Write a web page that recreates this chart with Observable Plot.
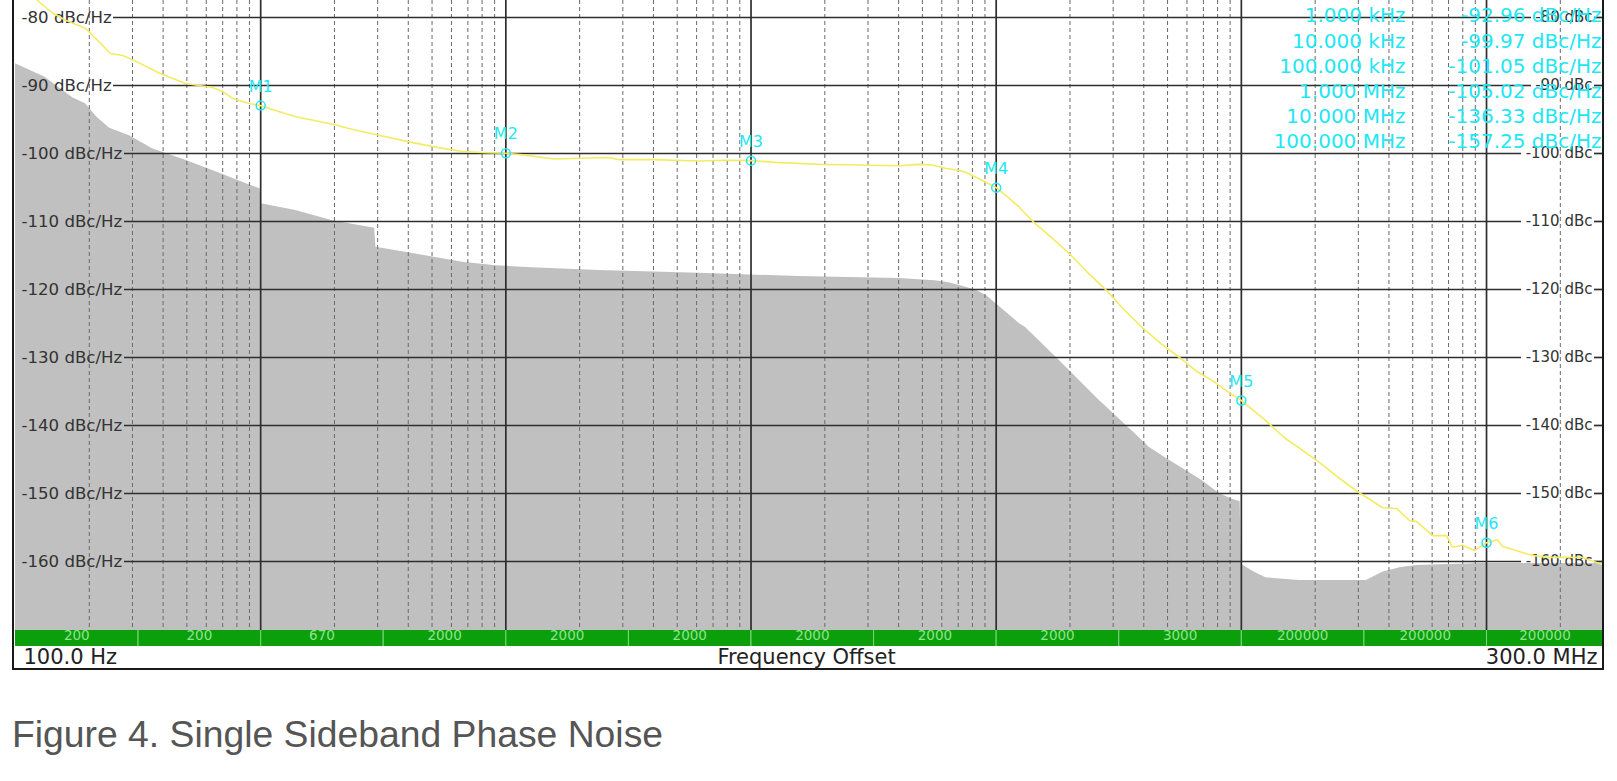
<!DOCTYPE html>
<html>
<head>
<meta charset="utf-8">
<script src="https://cdn.jsdelivr.net/npm/d3@7"></script>
<script src="https://cdn.jsdelivr.net/npm/@observablehq/plot@0.6"></script>
<style>
  html, body { margin: 0; padding: 0; background: #fff; }
  #wrap { position: relative; width: 1617px; height: 781px; overflow: hidden; }
  #chart { position: absolute; left: 0; top: 0; }
  #border { position: absolute; left: 12px; top: -3px; width: 1592px; height: 673px;
            border: 2px solid #1a1a1a; box-sizing: border-box; pointer-events: none; }
  #caption { position: absolute; left: 12px; top: 716px; font-family: "Liberation Sans", Arial, sans-serif;
             font-size: 37.3px; line-height: 37px; color: #555; white-space: nowrap; }
</style>
</head>
<body>
<div id="wrap">
  <div id="chart"></div>
  <div id="border"></div>
  <div id="caption">Figure 4. Single Sideband Phase Noise</div>
</div>
<script>
// ---- data ----
// Measured single sideband phase noise trace (yellow)
const traceFreq = [123, 141, 160, 193, 214, 244, 274, 316, 387, 494, 637, 708, 769, 891,
  1000, 1175, 1390, 1968, 2399, 2944, 4169, 5248, 6668, 8318,
  10000, 11750, 15700, 19950, 26300, 28840, 39810, 61380, 79430,
  100000, 125900, 189700, 281800, 401800, 478600, 549500, 625200, 707900, 755100, 871000,
  1.0e6, 1.122e6, 1.242e6, 1.403e6, 1.66e6, 1.986e6, 2.344e6, 2.812e6, 3.311e6, 3.945e6, 4.677e6, 5.585e6, 6.607e6, 7.621e6, 8.71e6,
  1.0e7, 1.23e7, 1.5e7, 2.023e7, 2.455e7, 2.944e7, 3.767e7, 4.295e7, 4.853e7, 5.176e7, 6.026e7, 6.871e7, 7.261e7, 7.98e7, 8.93e7,
  1.0e8, 1.109e8, 1.161e8, 1.242e8, 1.318e8, 1.535e8, 1.791e8, 2.455e8, 2.884e8, 3.0e8];
const traceDb = [-77.5, -79.3, -80.4, -81.6, -83.2, -85.3, -85.6, -86.6, -88.2, -89.7, -90.3, -91.0, -91.9, -92.6,
  -92.96, -93.8, -94.6, -95.7, -96.5, -97.2, -98.4, -99.1, -99.7, -99.9,
  -99.97, -100.2, -100.8, -100.7, -100.6, -100.9, -100.9, -101.1, -101.0,
  -101.05, -101.3, -101.6, -101.7, -101.8, -101.6, -101.7, -102.2, -102.5, -102.8, -103.9,
  -105.02, -106.5, -107.9, -109.9, -112.2, -114.7, -117.4, -120.1, -122.9, -125.6, -127.9, -130.0, -132.1, -133.4, -134.9,
  -136.33, -139.0, -141.8, -145.1, -147.5, -149.6, -152.1, -152.2, -154.0, -154.1, -156.2, -156.2, -157.9, -157.6, -158.4,
  -157.25, -156.8, -157.8, -158.1, -158.4, -159.1, -159.4, -159.4, -160.3, -160.5];

// Reference / limit trace (gray filled)
const refFreq = [100, 132, 171, 193, 214, 242, 292, 362, 494, 681, 869, 995, 1005, 1390, 1968, 2917, 2951,
  4169, 6668, 9099, 12760, 23990, 61380, 157000, 401800, 562300, 642700, 741300, 827900, 912000,
  1.0e6, 1.242e6, 1.318e6, 1.807e6, 2.63e6, 3.837e6, 4.207e6, 5.082e6, 6.918e6, 8.128e6, 9.12e6, 9.886e6,
  1.0e7, 1.122e7, 1.259e7, 1.726e7, 3.236e7, 3.767e7, 4.467e7, 5.176e7, 9.55e7, 3.0e8];
const refDb = [-86.8, -88.8, -91.8, -92.7, -94.6, -96.3, -97.4, -99.3, -101.0, -102.9, -104.4, -105.2, -107.4, -108.4, -109.9, -111.0, -113.8,
  -114.7, -116.0, -116.5, -116.8, -117.2, -117.6, -118.1, -118.4, -118.7, -119.0, -119.6, -120.1, -120.9,
  -122.1, -125.0, -125.6, -130.4, -136.3, -141.8, -143.2, -145.1, -148.1, -150.0, -150.8, -151.2,
  -160.4, -161.5, -162.4, -162.8, -162.8, -161.6, -160.9, -160.6, -160.3, -160.3];

// Markers
const markerNames = ["M1", "M2", "M3", "M4", "M5", "M6"];
const markerFreq = [1e3, 1e4, 1e5, 1e6, 1e7, 1e8];
const markerDb = [-92.96, -99.97, -101.05, -105.02, -136.33, -157.25];
const markerFreqText = ["1.000 kHz", "10.000 kHz", "100.000 kHz", "1.000 MHz", "10.000 MHz", "100.000 MHz"];

// Axis ticks
const yTicks = [-80, -90, -100, -110, -120, -130, -140, -150, -160];
const decadeFreqs = [1e2, 1e3, 1e4, 1e5, 1e6, 1e7, 1e8];
const minorMultipliers = [2, 3, 4, 5, 6, 7, 8, 9];

// Green segment bar labels (one per half decade)
const segmentLabels = ["200", "200", "670", "2000", "2000", "2000", "2000", "2000", "2000", "3000", "200000", "200000", "200000"];

const startLabel = "100.0 Hz";
const stopLabel = "300.0 MHz";
const axisTitle = "Frequency Offset";

// ---- derived tables ----
const X_MIN = 100, X_MAX = 3e8;
const Y_MIN = -170.15, Y_MAX = -77.5;
const PX_PER_DB = 630 / (Y_MAX - Y_MIN);
const BAR_DB = 16 / PX_PER_DB;

const trace = traceFreq.map((f, i) => ({f, db: traceDb[i]}));
const ref = refFreq.map((f, i) => ({f, db: refDb[i]}));
const markers = markerNames.map((n, i) => ({n, f: markerFreq[i], db: markerDb[i]}));
const majors = decadeFreqs.filter(f => f > X_MIN);
const minors = decadeFreqs.flatMap(d => minorMultipliers.map(m => m * d)).filter(f => f > X_MIN && f <= X_MAX);
const segments = segmentLabels.map((t, i) => {
  const lo = Math.pow(10, 2 + i / 2);
  const hi = Math.min(Math.pow(10, 2 + (i + 1) / 2), X_MAX);
  return {t, lo, hi, mid: Math.sqrt(lo * hi)};
});
const tableFreq = markerFreqText.join("\n");
const tableVal = markerDb.map(v => v.toFixed(2) + " dBc/Hz").join("\n");
const short = yTicks.filter(v => v > -100);
const long = yTicks.filter(v => v <= -100);

const GRID = "#2e2e2e";
const CYAN = "#22e6f4";

const chart = Plot.plot({
  width: 1617,
  height: 670,
  marginLeft: 15,
  marginRight: 14,
  marginTop: 0,
  marginBottom: 40,
  style: {fontFamily: "DejaVu Sans, sans-serif", background: "transparent"},
  x: {type: "log", domain: [X_MIN, X_MAX], axis: null},
  y: {domain: [Y_MIN, Y_MAX], axis: null},
  marks: [
    Plot.areaY(ref, {x: "f", y1: Y_MIN, y2: "db", fill: "#c0c0c0", curve: "linear"}),
    Plot.ruleX(minors, {stroke: "#6a6a6a", strokeWidth: 1, strokeDasharray: "4,3"}),
    Plot.ruleX(majors, {stroke: GRID, strokeWidth: 1.7}),
    Plot.ruleY(short, {stroke: GRID, strokeWidth: 1.7, insetLeft: 98, insetRight: 72}),
    Plot.ruleY(long, {stroke: GRID, strokeWidth: 1.7, insetLeft: 109, insetRight: 82}),
    Plot.ruleY(yTicks, {stroke: GRID, strokeWidth: 1.7, insetLeft: 1579}),
    Plot.text(yTicks, {y: d => d, text: d => `${d} dBc/Hz`, frameAnchor: "left", dx: 6,
      textAnchor: "start", fontSize: 16.6, fill: "#333"}),
    Plot.text(yTicks, {y: d => d, text: d => `${d} dBc`, frameAnchor: "right", dx: -11,
      textAnchor: "end", fontSize: 15, fill: "#333"}),
    Plot.line(trace, {x: "f", y: "db", stroke: "#f3ec62", strokeWidth: 1.6}),
    Plot.dot(markers, {x: "f", y: "db", r: 4.5, stroke: CYAN, strokeWidth: 1.5, fill: "none"}),
    Plot.text(markers, {x: "f", y: "db", text: "n", dy: -19, fill: CYAN, fontSize: 16}),
    Plot.text([tableFreq], {frameAnchor: "top-right", text: d => d, dx: -198, dy: 4, textAnchor: "end",
      lineAnchor: "top", lineHeight: 1.26, fontSize: 20, fill: CYAN}),
    Plot.text([tableVal], {frameAnchor: "top-right", text: d => d, dx: -2, dy: 4, textAnchor: "end",
      lineAnchor: "top", lineHeight: 1.26, fontSize: 20, fill: CYAN}),
    Plot.rect(segments, {x1: "lo", x2: "hi", y1: Y_MIN, y2: Y_MIN - BAR_DB, fill: "#0b9f0b"}),
    Plot.ruleX(segments.slice(1), {x: "lo", y1: Y_MIN, y2: Y_MIN - BAR_DB, stroke: "#7fd67f", strokeWidth: 1}),
    Plot.text(segments, {x: "mid", text: "t", frameAnchor: "bottom", dy: 9, fill: "#8fe38f", fontSize: 13.5}),
    Plot.text([startLabel], {text: d => d, frameAnchor: "bottom-left", dx: 8, dy: 27, textAnchor: "start",
      lineAnchor: "middle", fontSize: 21, fill: "#222"}),
    Plot.text([axisTitle], {text: d => d, frameAnchor: "bottom", dx: -3, dy: 27,
      lineAnchor: "middle", fontSize: 21, fill: "#222"}),
    Plot.text([stopLabel], {text: d => d, frameAnchor: "bottom-right", dx: -6, dy: 27, textAnchor: "end",
      lineAnchor: "middle", fontSize: 21, fill: "#222"})
  ]
});
document.getElementById("chart").appendChild(chart);
</script>
</body>
</html>
